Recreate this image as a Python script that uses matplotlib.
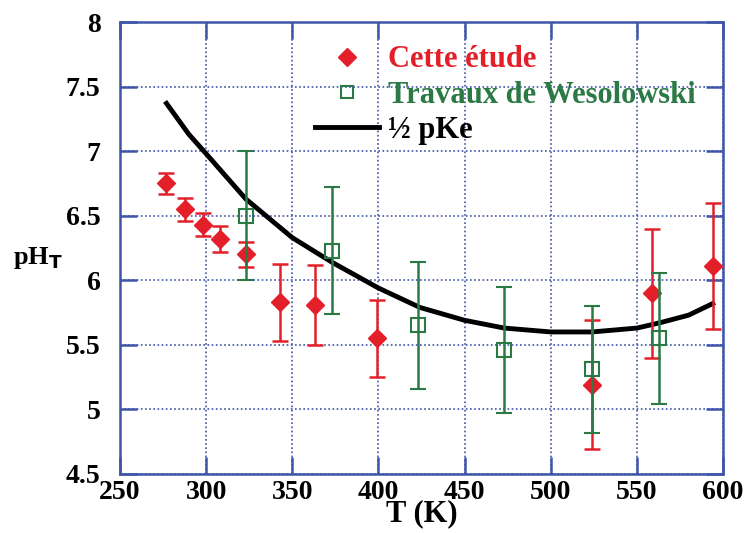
#!/usr/bin/env python3
"""
pH_T vs temperature: this work, Wesolowski data and 1/2 pKe curve.
"""

import matplotlib.pyplot as plt
from matplotlib.lines import Line2D
from matplotlib.ticker import MultipleLocator, FormatStrFormatter

# Cette étude
T_etude = [277, 288, 298, 308, 323, 343, 363, 399, 524, 559, 594]
ph_etude = [6.75, 6.55, 6.43, 6.32, 6.20, 5.83, 5.81, 5.55, 5.19, 5.90, 6.11]
err_etude = [0.08, 0.09, 0.09, 0.10, 0.10, 0.30, 0.31, 0.30, 0.50, 0.50, 0.49]

# Travaux de Wesolowski
T_weso = [323, 373, 423, 473, 524, 563]
ph_weso = [6.50, 6.23, 5.65, 5.46, 5.31, 5.55]
err_weso = [0.50, 0.49, 0.49, 0.49, 0.49, 0.51]

# 1/2 pKe
T_pke = [277, 290, 300, 323, 350, 373, 400, 424, 450, 473, 500, 524, 550, 563, 580, 594]
ph_pke = [7.37, 7.13, 6.98, 6.63, 6.33, 6.14, 5.94, 5.79, 5.69, 5.63, 5.60, 5.60, 5.63, 5.67, 5.73, 5.82]

RED = "#e3202a"
GREEN = "#2b7a45"
BLUE = "#3f55a8"

plt.rcParams["font.family"] = ["Liberation Serif", "DejaVu Serif"]
plt.rcParams["font.weight"] = "bold"

fig = plt.figure(figsize=(7.47, 5.33), dpi=100)
ax = fig.add_axes([0.1606, 0.1107, 0.8074, 0.848])

ax.plot(T_pke, ph_pke, color="black", lw=3.5, zorder=3)
ax.errorbar(T_etude, ph_etude, yerr=err_etude, fmt="D", color=RED, ms=9,
            ecolor=RED, elinewidth=1.8, capsize=6, capthick=1.8, zorder=4)
ax.errorbar(T_weso, ph_weso, yerr=err_weso, fmt="s", mfc="none", mec=GREEN,
            mew=1.5, ms=10, ecolor=GREEN, elinewidth=1.8, capsize=6,
            capthick=1.8, zorder=5)

ax.set_xlim(250, 600)
ax.set_ylim(4.5, 8)
ax.xaxis.set_major_locator(MultipleLocator(50))
ax.yaxis.set_major_locator(MultipleLocator(0.5))
ax.yaxis.set_major_formatter(FormatStrFormatter("%g"))
ax.grid(True, color=BLUE, linestyle=(0, (1, 1.5)), lw=1.2)
for s in ax.spines.values():
    s.set_color(BLUE)
    s.set_linewidth(1.8)
ax.tick_params(direction="in", length=12, width=1.8, color=BLUE,
               top=True, right=True, labelsize=20)
ax.tick_params(axis="x", pad=4)
ax.tick_params(axis="y", pad=14)
for lab in ax.get_xticklabels() + ax.get_yticklabels():
    lab.set_fontweight("bold")
ax.get_yticklabels()[0].set_va("bottom")

ax.set_xlabel("T (K)", fontsize=22, fontweight="bold", labelpad=-4)
ax.set_ylabel("pH$_\\mathbf{T}$", fontsize=19, fontweight="bold", rotation=0)
ax.yaxis.set_label_coords(-0.136, 0.45)

handles = [
    Line2D([], [], ls="none", marker="D", color=RED, ms=9),
    Line2D([], [], ls="none", marker="s", mfc="none", mec=GREEN, mew=1.5, ms=9),
    Line2D([], [], color="black", lw=3.5),
]
labels = ["Cette étude", "Travaux de Wesolowski", "½ pKe"]
leg = ax.legend(handles, labels, loc="upper left",
                bbox_to_anchor=(0.277, 1.009), frameon=False,
                handlelength=2.1, handletextpad=0.3, labelspacing=0.2,
                prop={"weight": "bold", "size": 22})
for txt, c in zip(leg.get_texts(), [RED, GREEN, "black"]):
    txt.set_color(c)

fig.savefig("out.png", dpi=100)
